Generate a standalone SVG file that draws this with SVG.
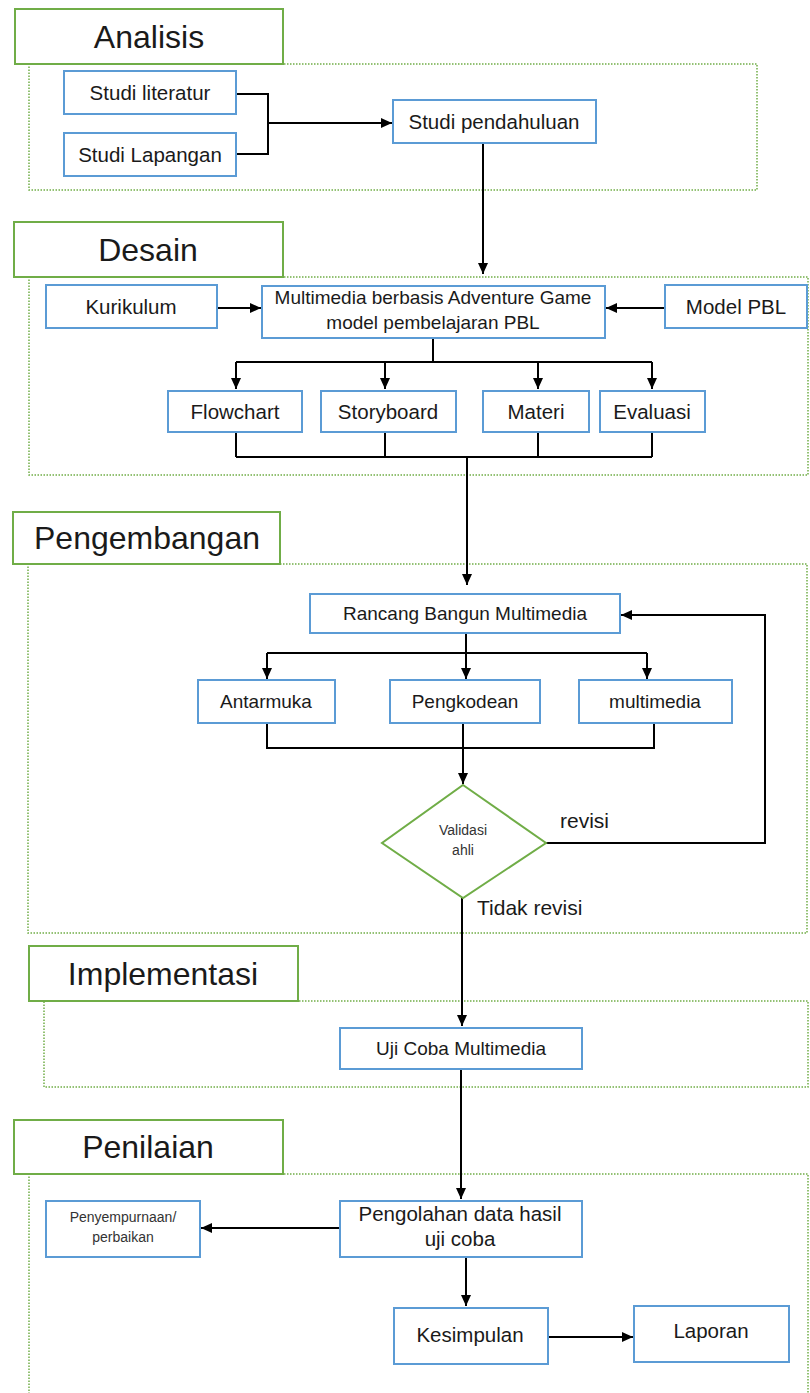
<svg xmlns="http://www.w3.org/2000/svg" width="810" height="1393" viewBox="0 0 810 1393">
<defs>
<marker id="ah" markerUnits="userSpaceOnUse" markerWidth="12" markerHeight="12" viewBox="0 0 12 12" refX="11" refY="6" orient="auto">
<path d="M0,1 L11,6 L0,11 Z" fill="#000"/>
</marker>
<style>
.frame{fill:none;stroke:#70AD47;stroke-width:1.5;stroke-dasharray:1.5 1.5}
.hdr{fill:#fff;stroke:#70AD47;stroke-width:2}
.hdrt{font-family:"Liberation Sans",Arial,sans-serif;font-size:32px;fill:#1a1a1a;text-anchor:middle}
.box{fill:#fff;stroke:#5B9BD5;stroke-width:2}
.t{font-family:"Liberation Sans",Arial,sans-serif;font-size:19px;fill:#1a1a1a;text-anchor:middle}
.tb{font-family:"Liberation Sans",Arial,sans-serif;font-size:20.5px;fill:#1a1a1a;text-anchor:middle}
.s{font-family:"Liberation Sans",Arial,sans-serif;font-size:14px;fill:#333;text-anchor:middle}
.lbl{font-family:"Liberation Sans",Arial,sans-serif;font-size:21px;fill:#1a1a1a}
.c{fill:none;stroke:#000;stroke-width:2}
.ca{fill:none;stroke:#000;stroke-width:2;marker-end:url(#ah)}
</style>
</defs>
<rect width="810" height="1393" fill="#fff"/>

<g id="frames">
<rect class="frame" x="29" y="64" width="728" height="126"/>
<rect class="frame" x="29" y="277" width="779" height="198"/>
<rect class="frame" x="28" y="564" width="779" height="369"/>
<rect class="frame" x="44" y="1001" width="764" height="86"/>
<rect class="frame" x="29" y="1174" width="779" height="240"/>
</g>

<g id="connectors">
<path class="c" d="M236,94 H268 V154 H236"/>
<path class="ca" d="M268,123 H392"/>
<path class="ca" d="M483,143 V274"/>
<path class="ca" d="M217,308 H261"/>
<path class="ca" d="M665,308 H606"/>
<path class="c" d="M433,338 V362 M236,362 H652"/>
<path class="ca" d="M236,362 V389"/>
<path class="ca" d="M385,362 V389"/>
<path class="ca" d="M538,362 V389"/>
<path class="ca" d="M652,362 V389"/>
<path class="c" d="M236,432 V457 M385,432 V457 M538,432 V457 M652,432 V457 M236,457 H652"/>
<path class="ca" d="M467,457 V585"/>
<path class="c" d="M466,633 V653 M267,653 H647"/>
<path class="ca" d="M267,653 V679"/>
<path class="ca" d="M466,653 V679"/>
<path class="ca" d="M647,653 V679"/>
<path class="c" d="M267,723 V748 H654 V723"/>
<path class="ca" d="M463,723 V784"/>
<path class="ca" d="M546,843 H765 V615 H621"/>
<path class="ca" d="M462,898 V1026"/>
<path class="ca" d="M461,1069 V1199"/>
<path class="ca" d="M340,1228 H201"/>
<path class="ca" d="M466,1257 V1306"/>
<path class="ca" d="M548,1337 H633"/>
</g>

<g id="hdr-analisis"><rect class="hdr" x="15" y="9" width="268" height="55"/><text class="hdrt" x="149" y="48">Analisis</text></g>
<g id="hdr-desain"><rect class="hdr" x="14" y="222" width="269" height="55"/><text class="hdrt" x="148" y="261">Desain</text></g>
<g id="hdr-pengembangan"><rect class="hdr" x="13" y="512" width="267" height="52"/><text class="hdrt" x="147" y="549">Pengembangan</text></g>
<g id="hdr-implementasi"><rect class="hdr" x="29" y="946" width="269" height="55"/><text class="hdrt" x="163" y="985">Implementasi</text></g>
<g id="hdr-penilaian"><rect class="hdr" x="14" y="1120" width="269" height="54"/><text class="hdrt" x="148" y="1158">Penilaian</text></g>

<g id="studi-literatur"><rect class="box" x="64" y="71" width="172" height="43"/><text class="tb" x="150" y="100">Studi literatur</text></g>
<g id="studi-lapangan"><rect class="box" x="64" y="133" width="172" height="43"/><text class="tb" x="150" y="162">Studi Lapangan</text></g>
<g id="studi-pendahuluan"><rect class="box" x="393" y="100" width="203" height="43"/><text class="tb" x="494" y="129">Studi pendahuluan</text></g>

<g id="kurikulum"><rect class="box" x="46" y="285" width="171" height="43"/><text class="tb" x="131" y="314">Kurikulum</text></g>
<g id="multimedia-game"><rect class="box" x="262" y="286" width="343" height="52"/><text class="t" x="433" y="304">Multimedia berbasis Adventure Game</text><text class="t" x="433" y="329">model pembelajaran PBL</text></g>
<g id="model-pbl"><rect class="box" x="665" y="285" width="142" height="43"/><text class="tb" x="736" y="314">Model PBL</text></g>
<g id="flowchart"><rect class="box" x="168" y="391" width="134" height="41"/><text class="tb" x="235" y="419">Flowchart</text></g>
<g id="storyboard"><rect class="box" x="321" y="391" width="135" height="41"/><text class="tb" x="388" y="419">Storyboard</text></g>
<g id="materi"><rect class="box" x="483" y="391" width="106" height="41"/><text class="tb" x="536" y="419">Materi</text></g>
<g id="evaluasi"><rect class="box" x="600" y="391" width="105" height="41"/><text class="tb" x="652" y="419">Evaluasi</text></g>

<g id="rancang"><rect class="box" x="310" y="594" width="310" height="39"/><text class="t" x="465" y="620">Rancang Bangun Multimedia</text></g>
<g id="antarmuka"><rect class="box" x="198" y="680" width="137" height="43"/><text class="t" x="266" y="708">Antarmuka</text></g>
<g id="pengkodean"><rect class="box" x="390" y="680" width="150" height="43"/><text class="t" x="465" y="708">Pengkodean</text></g>
<g id="multimedia"><rect class="box" x="579" y="680" width="153" height="43"/><text class="t" x="655" y="708">multimedia</text></g>
<g id="validasi"><path d="M463,785 L546,843 L463,898 L382,843 Z" fill="#fff" stroke="#70AD47" stroke-width="2"/><text class="s" x="463" y="835" font-size="13">Validasi</text><text class="s" x="463" y="855" font-size="13">ahli</text></g>
<text class="lbl" x="560" y="828">revisi</text>
<text class="lbl" x="477" y="915">Tidak revisi</text>

<g id="uji-coba"><rect class="box" x="340" y="1028" width="242" height="41"/><text class="t" x="461" y="1055">Uji Coba Multimedia</text></g>
<g id="pengolahan"><rect class="box" x="340" y="1201" width="242" height="56"/><text class="tb" x="460" y="1221">Pengolahan data hasil</text><text class="tb" x="460" y="1246">uji coba</text></g>
<g id="penyempurnaan"><rect class="box" x="46" y="1201" width="154" height="56"/><text class="s" x="123" y="1222">Penyempurnaan/</text><text class="s" x="123" y="1242">perbaikan</text></g>
<g id="kesimpulan"><rect class="box" x="394" y="1308" width="154" height="56"/><text class="tb" x="470" y="1342">Kesimpulan</text></g>
<g id="laporan"><rect class="box" x="634" y="1306" width="155" height="56"/><text class="tb" x="711" y="1338">Laporan</text></g>
</svg>
